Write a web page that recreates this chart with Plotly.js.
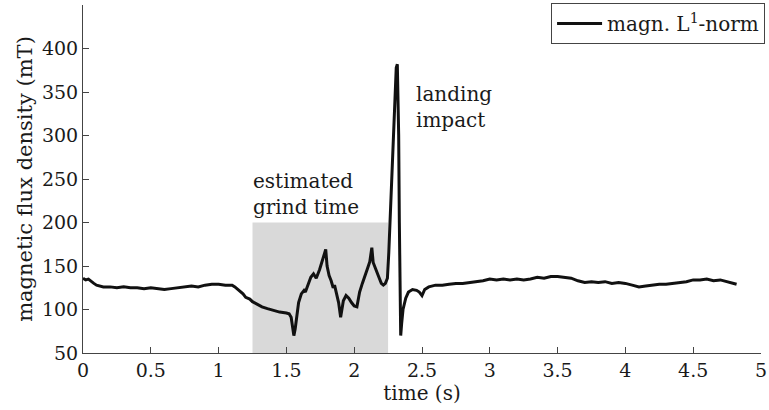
<!DOCTYPE html>
<html>
<head>
<meta charset="utf-8">
<script src="https://cdn.plot.ly/plotly-3.0.1.min.js"></script>
<style>html,body{margin:0;padding:0;background:#fff;}#chart{width:769px;height:410px;}</style>
</head>
<body>
<div id="chart"></div>
<script>
// time (s)
const timeS = [
  0, 0.02, 0.04, 0.06, 0.08, 0.10, 0.12, 0.15, 0.20, 0.25, 0.30, 0.35, 0.40, 0.45, 0.50, 0.55, 0.60, 0.65, 0.70, 0.75,
  0.80, 0.85, 0.90, 0.95, 1.00, 1.05, 1.10, 1.12, 1.15, 1.18, 1.20, 1.23, 1.25, 1.28, 1.32, 1.36, 1.40, 1.45, 1.50, 1.52,
  1.535, 1.545, 1.555, 1.565, 1.575, 1.59, 1.61, 1.63, 1.64, 1.655, 1.68, 1.70, 1.72, 1.745, 1.77, 1.79, 1.80, 1.815, 1.83, 1.845,
  1.855, 1.87, 1.885, 1.90, 1.92, 1.94, 1.96, 1.98, 2.00, 2.02, 2.04, 2.06, 2.08, 2.10, 2.115, 2.13, 2.14, 2.16, 2.18, 2.20,
  2.215, 2.23, 2.245, 2.255, 2.265, 2.28, 2.29, 2.30, 2.305, 2.31, 2.318, 2.322, 2.328, 2.333, 2.338, 2.343, 2.35, 2.36, 2.38, 2.40,
  2.43, 2.46, 2.48, 2.50, 2.52, 2.55, 2.60, 2.65, 2.70, 2.75, 2.80, 2.85, 2.90, 2.95, 3.00, 3.05, 3.10, 3.15, 3.20, 3.25,
  3.30, 3.35, 3.40, 3.45, 3.50, 3.55, 3.60, 3.65, 3.70, 3.75, 3.80, 3.85, 3.90, 3.95, 4.00, 4.05, 4.10, 4.15, 4.20, 4.25,
  4.30, 4.35, 4.40, 4.45, 4.50, 4.55, 4.60, 4.65, 4.70, 4.75, 4.80, 4.82
];
// magnetic flux density, L1-norm (mT)
const fluxMT = [
  136, 134, 135, 132, 130, 128, 127, 126, 126, 125, 126, 125, 125, 124, 125, 124, 123, 124, 125, 126,
  127, 126, 128, 129, 129, 128, 128, 126, 122, 118, 114, 112, 109, 106, 103, 101, 99, 97, 96, 95,
  91, 80, 70, 78, 92, 108, 118, 122, 120, 127, 137, 141, 136, 146, 160, 169, 150, 139, 133, 125,
  128, 118, 108, 91, 110, 116, 113, 108, 104, 103, 120, 130, 138, 148, 155, 171, 154, 145, 138, 130,
  128, 130, 136, 165, 205, 255, 300, 355, 372, 378, 382, 360, 300, 200, 110, 70, 84, 100, 113, 120,
  123, 122, 120, 116, 123, 126, 128, 128, 129, 130, 130, 131, 132, 133, 135, 134, 135, 134, 135, 134,
  135, 137, 136, 138, 138, 137, 136, 133, 131, 132, 131, 132, 130, 131, 130, 128, 126, 127, 128, 129,
  129, 130, 131, 132, 134, 134, 135, 133, 134, 132, 130, 129
];
const xTicks = [0, 0.5, 1, 1.5, 2, 2.5, 3, 3.5, 4, 4.5, 5];
const yTicks = [50, 100, 150, 200, 250, 300, 350, 400];
const grindWindow = [1.25, 2.25];
const grindTop = 200;
const seriesName = 'magn. L<sup>1</sup>-norm';

const FONT = 'DejaVu Serif, Liberation Serif, serif';
const TXT = '#1a1a1a';

const trace = {
  x: timeS, y: fluxMT, type: 'scatter', mode: 'lines', name: seriesName,
  line: {color: '#111111', width: 3}
};

const layout = {
  width: 769, height: 410,
  margin: {l: 83, r: 8, t: 4, b: 57},
  paper_bgcolor: '#ffffff', plot_bgcolor: '#ffffff',
  font: {family: FONT, size: 19, color: TXT},
  showlegend: true,
  legend: {
    x: 1.006, xanchor: 'right', y: 1.003, yanchor: 'top',
    bordercolor: '#444', borderwidth: 1, bgcolor: '#ffffff',
    itemwidth: 45,
    font: {family: FONT, size: 20, color: TXT}
  },
  xaxis: {
    range: [0, 5], tickvals: xTicks, ticktext: xTicks.map(String),
    ticks: 'inside', ticklen: 6, tickcolor: '#444', tickwidth: 1,
    showline: true, linecolor: '#444', linewidth: 1, mirror: false,
    showgrid: false, zeroline: false,
    tickfont: {family: FONT, size: 19, color: TXT},
    title: {text: 'time (s)', font: {family: FONT, size: 20, color: TXT}, standoff: 0}
  },
  yaxis: {
    range: [50, 450], tickvals: yTicks, ticktext: yTicks.map(String),
    ticks: 'inside', ticklen: 6, tickcolor: '#444', tickwidth: 1,
    showline: true, linecolor: '#444', linewidth: 1, mirror: false,
    showgrid: false, zeroline: false,
    tickfont: {family: FONT, size: 19, color: TXT},
    title: {text: 'magnetic flux density (mT)', font: {family: FONT, size: 21, color: TXT}, standoff: 3}
  },
  shapes: [{
    type: 'rect', xref: 'x', yref: 'y', layer: 'below',
    x0: grindWindow[0], x1: grindWindow[1], y0: 50, y1: grindTop,
    fillcolor: '#d9d9d9', line: {width: 0}
  }],
  annotations: [
    {x: grindWindow[0], y: grindTop, xref: 'x', yref: 'y', xanchor: 'left', yanchor: 'bottom',
     text: 'estimated<br>grind time', showarrow: false, align: 'left', yshift: 2, xshift: -2,
     font: {family: FONT, size: 20, color: TXT}},
    {x: 2.44, y: 364, xref: 'x', yref: 'y', xanchor: 'left', yanchor: 'top',
     text: 'landing<br>impact', showarrow: false, align: 'left',
     font: {family: FONT, size: 20, color: TXT}}
  ]
};

Plotly.newPlot('chart', [trace], layout, {displayModeBar: false, staticPlot: true});
</script>
</body>
</html>
